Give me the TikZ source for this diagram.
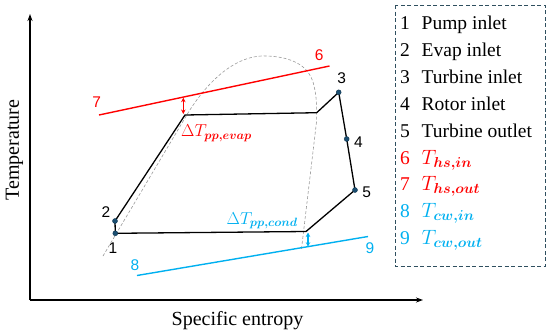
\documentclass[tikz,border=0pt]{standalone}
\usepackage{fontspec}
\usepackage{amsmath}
\usepackage{bm}
\setmainfont{Liberation Serif}
\newfontfamily\arialf{Liberation Sans}
\usetikzlibrary{arrows.meta}
\definecolor{hsred}{HTML}{FF0000}
\definecolor{cwblue}{HTML}{00B0F0}
\definecolor{dotcol}{HTML}{1B4F72}
\definecolor{boxcol}{HTML}{2F4F5F}
\begin{document}
\begin{tikzpicture}[x=1pt,y=-1pt,
  axisline/.style={line width=1.8pt,-{Stealth[length=7pt,width=5pt]}},
  cycleline/.style={line width=1.3pt,black,line join=round},
  hsline/.style={line width=1.4pt,hsred},
  cwline/.style={line width=1.4pt,cwblue},
  statedot/.style={circle,fill=dotcol,draw=dotcol!70!black,inner sep=0pt,minimum size=5pt},
  numlabel/.style={font=\arialf\fontsize{15.5}{15.5}\selectfont,inner sep=0pt},
  leglab/.style={font=\fontsize{19.5}{22}\selectfont,inner sep=0pt,anchor=base west},
  legmath/.style={font=\fontsize{20.5}{22}\selectfont,inner sep=0pt,anchor=base west},
  legnum/.style={font=\fontsize{19.5}{22}\selectfont,inner sep=0pt,anchor=base},
  pplab/.style={inner sep=0pt,anchor=base west,font=\fontsize{18}{18}\selectfont},
  ppmark/.style={line width=1.2pt,{Stealth[length=4.5pt,width=4.5pt]}-{Stealth[length=4.5pt,width=4.5pt]}},
  dome/.style={densely dashed,gray!80,line width=0.6pt}]
\useasboundingbox (0,0) rectangle (550,333);
% axes
\coordinate (o) at (30,300);
\coordinate (ytop) at (30,14);
\coordinate (xend) at (423,300);
\draw[axisline] (o) -- (ytop);
\draw[axisline] (o) -- (xend);
\node[font=\fontsize{20}{20}\selectfont,inner sep=0pt,anchor=base] (xlab) at (237.5,325) {Specific entropy};
\node[font=\fontsize{20}{20}\selectfont,inner sep=0pt,anchor=base,rotate=90] (ylab) at (19,150) {Temperature};
% saturation dome
\draw[dome] (103,256) -- (185,118)
  .. controls (200,92) and (230,54) .. (267,56)
  .. controls (295,57) and (309,68) .. (313,82)
  .. controls (316.5,94) and (317,105) .. (316.5,122) -- (301.5,249);
% state points
\coordinate (p1) at (115.3,233.3);
\coordinate (p2) at (115,221);
\coordinate (pe) at (185,115);
\coordinate (pv) at (316.7,112.7);
\coordinate (p3) at (338.7,92.3);
\coordinate (p4) at (346.7,139);
\coordinate (p5) at (355,190);
\coordinate (pc) at (306,231.5);
\draw[cycleline] (p1) -- (p2) -- (pe) -- (pv) -- (p3) -- (p4) -- (p5) -- (pc) -- cycle;
\foreach \p in {p1,p2,p3,p4,p5} \node[statedot] at (\p) {};
% heat source and cooling water lines
\coordinate (h7) at (99,115);
\coordinate (h6) at (329.5,66);
\coordinate (c8) at (137,275.5);
\coordinate (c9) at (368,236.5);
\draw[hsline] (h7) -- (h6);
\draw[cwline] (c8) -- (c9);
% pinch arrows
\coordinate (ea) at (183.3,97.7);
\coordinate (eb) at (183.3,114);
\coordinate (ca) at (308,232.5);
\coordinate (cb) at (308,246.7);
\draw[ppmark,hsred] (ea) -- (eb);
\draw[ppmark,cwblue] (ca) -- (cb);
\node[pplab,hsred] (dte) at (181,136.5) {$\Delta T_{\bm{pp,evap}}$};
\node[pplab,cwblue] (dtc) at (226.5,224) {$\Delta T_{\bm{pp,cond}}$};
% number labels
\node[numlabel] (n1) at (113,248) {1};
\node[numlabel] (n2) at (106,212) {2};
\node[numlabel] (n3) at (341.7,78) {3};
\node[numlabel] (n4) at (358.5,141.7) {4};
\node[numlabel] (n5) at (366.7,192.5) {5};
\node[numlabel,hsred] (n6) at (319.3,55) {6};
\node[numlabel,hsred] (n7) at (96.7,101.7) {7};
\node[numlabel,cwblue] (n8) at (135,265) {8};
\node[numlabel,cwblue] (n9) at (370,248) {9};
% legend
\draw[boxcol,dashed,dash pattern=on 4pt off 2.5pt,line width=0.9pt] (395,5) rectangle (545,266);
\node[legnum] (l1n) at (405,29.8) {1};
\node[leglab] (l1t) at (421.5,29.8) {Pump inlet};
\node[legnum] (l2n) at (405,56.6) {2};
\node[leglab] (l2t) at (421.5,56.6) {Evap inlet};
\node[legnum] (l3n) at (405,83.4) {3};
\node[leglab] (l3t) at (421.5,83.4) {Turbine inlet};
\node[legnum] (l4n) at (405,110.2) {4};
\node[leglab] (l4t) at (421.5,110.2) {Rotor inlet};
\node[legnum] (l5n) at (405,137) {5};
\node[leglab] (l5t) at (421.5,137) {Turbine outlet};
\node[legnum,hsred] (l6n) at (405,164) {6};
\node[legmath,hsred] (l6t) at (421.5,164) {$T_{\bm{hs,in}}$};
\node[legnum,hsred] (l7n) at (405,190.8) {7};
\node[legmath,hsred] (l7t) at (421.5,190.8) {$T_{\bm{hs,out}}$};
\node[legnum,cwblue] (l8n) at (405,217.6) {8};
\node[legmath,cwblue] (l8t) at (421.5,217.6) {$T_{\bm{cw,in}}$};
\node[legnum,cwblue] (l9n) at (405,244.4) {9};
\node[legmath,cwblue] (l9t) at (421.5,244.4) {$T_{\bm{cw,out}}$};
\end{tikzpicture}
\end{document}
